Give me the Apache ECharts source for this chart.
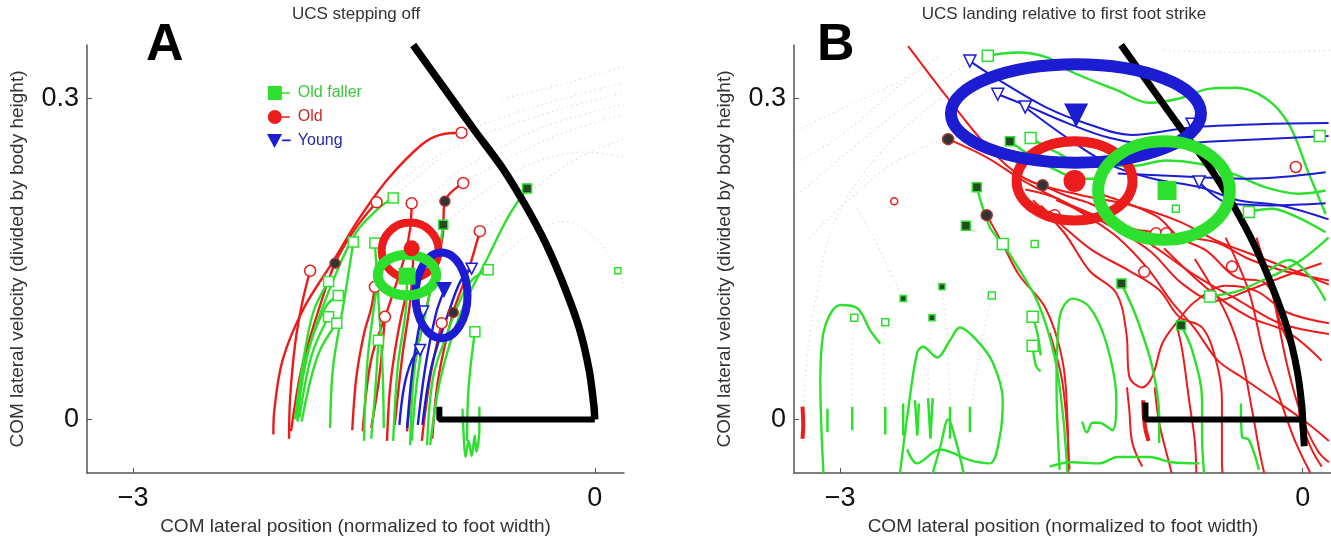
<!DOCTYPE html>
<html>
<head>
<meta charset="utf-8">
<title>UCS</title>
<script src="https://cdn.jsdelivr.net/npm/echarts@6.0.0/dist/echarts.min.js"></script>
<style>
  html, body { margin: 0; padding: 0; background: #fff; }
  #chart { width: 1331px; height: 537px; }
</style>
</head>
<body>
<div id="chart"></div>
<script>
// tick labels
var xTicks = [-3, 0];
var yTicks = [0, 0.3];

// black boundary (UCS)
var boundaryArcA = [[-1.18,0.350],[-0.98,0.310],[-0.78,0.270],[-0.60,0.235],[-0.45,0.200],[-0.32,0.165],[-0.20,0.125],[-0.10,0.085],[-0.035,0.045],[-0.005,0.012],[0,0.0]];
var boundaryBaseA = [[-1.01,0.012],[-1.01,0.0],[0,0.0]];
var boundaryArcB = [[-1.178,0.350],[-0.98,0.310],[-0.78,0.270],[-0.60,0.235],[-0.45,0.200],[-0.32,0.165],[-0.20,0.125],[-0.10,0.085],[-0.035,0.045],[-0.005,0.012],[0.004,-0.010],[0.010,-0.025]];
var boundaryBaseB = [[-1.02,0.016],[-1.02,0.0],[0,0.0]];

// panel A trajectories
var oldTrajA = [
  [[-2.089,-0.014],[-2.083,0.008],[-2.028,0.056],[-1.891,0.104],[-1.700,0.148],[-1.535,0.187],[-1.343,0.225],[-1.124,0.257],[-1.006,0.266],[-0.866,0.268]],
  [[-1.987,-0.018],[-1.980,0.020],[-1.946,0.072],[-1.900,0.110],[-1.850,0.139]],
  [[-1.974,-0.011],[-1.930,0.030],[-1.891,0.056],[-1.800,0.100],[-1.688,0.146],[-1.563,0.177],[-1.418,0.203]],
  [[-1.576,-0.010],[-1.549,0.040],[-1.500,0.080],[-1.453,0.104],[-1.429,0.124]],
  [[-1.508,-0.011],[-1.453,0.056],[-1.343,0.104],[-1.240,0.150],[-1.200,0.178],[-1.190,0.202]],
  [[-1.453,-0.008],[-1.400,0.040],[-1.364,0.096]],
  [[-1.220,-0.011],[-1.165,0.056],[-1.069,0.120],[-0.990,0.170],[-0.974,0.204],[-0.855,0.221]],
  [[-1.124,-0.020],[-1.069,0.040],[-0.995,0.090]],
  [[-1.056,-0.018],[-1.015,0.040],[-0.920,0.100],[-0.820,0.140],[-0.747,0.176]],
  [[-1.300,-0.005],[-1.250,0.060],[-1.200,0.110],[-1.180,0.150]],
  [[-1.350,-0.020],[-1.330,0.030],[-1.280,0.080],[-1.220,0.120]]
];
var fallerTrajA = [
  [[-1.946,0.002],[-1.900,0.050],[-1.830,0.100],[-1.730,0.129]],
  [[-1.932,-0.002],[-1.870,0.060],[-1.750,0.105],[-1.667,0.116]],
  [[-1.919,0.002],[-1.840,0.060],[-1.730,0.096]],
  [[-1.905,-0.002],[-1.800,0.060],[-1.677,0.090]],
  [[-1.946,0.000],[-1.850,0.070],[-1.700,0.130],[-1.550,0.175],[-1.400,0.198],[-1.310,0.207]],
  [[-1.720,-0.008],[-1.700,0.050],[-1.630,0.110],[-1.569,0.166]],
  [[-1.371,-0.008],[-1.380,0.050],[-1.405,0.110],[-1.429,0.165]],
  [[-1.453,-0.018],[-1.425,0.030],[-1.406,0.074]],
  [[-1.090,-0.024],[-1.050,0.040],[-0.960,0.080],[-0.880,0.110],[-0.800,0.130],[-0.693,0.140]],
  [[-1.070,-0.024],[-1.000,0.040],[-0.870,0.100],[-0.700,0.150],[-0.560,0.190],[-0.440,0.216]],
  [[-0.830,-0.020],[-0.820,0.030],[-0.779,0.082]],
  [[-1.310,-0.020],[-1.280,0.050],[-1.230,0.100],[-1.220,0.135]],
  [[-1.200,-0.024],[-1.170,0.050],[-1.100,0.100],[-1.020,0.150],[-0.985,0.182]],
  [[-1.500,-0.020],[-1.480,0.050],[-1.440,0.100],[-1.400,0.140]],
  [[-1.190,-0.020],[-1.160,0.030],[-1.120,0.070]],
  [[-0.86,0.010],[-0.85,-0.020],[-0.84,-0.035],[-0.82,-0.020],[-0.80,-0.034],[-0.78,-0.015],[-0.77,-0.030],[-0.75,-0.010],[-0.75,0.012]]
];
var youngTrajA = [
  [[-1.270,-0.005],[-1.240,0.030],[-1.190,0.055],[-1.136,0.065]],
  [[-1.220,-0.008],[-1.190,0.040],[-1.150,0.080],[-1.115,0.101]],
  [[-1.150,-0.005],[-1.100,0.050],[-1.030,0.100],[-0.980,0.120]],
  [[-1.120,-0.005],[-1.060,0.050],[-0.950,0.100],[-0.870,0.130],[-0.800,0.141]]
];
var dottedA = [
  [[-1.418,0.203],[-1.15,0.235],[-0.80,0.262],[-0.45,0.280],[-0.10,0.295],[0.19,0.305]],
  [[-0.866,0.268],[-0.55,0.285],[-0.20,0.300],[0.19,0.315]],
  [[-0.855,0.221],[-0.55,0.245],[-0.20,0.268],[0.19,0.285]],
  [[-0.747,0.176],[-0.45,0.210],[-0.10,0.245],[0.19,0.262]],
  [[-1.688,0.146],[-1.50,0.182],[-1.25,0.215],[-1.00,0.245]],
  [[-0.985,0.182],[-0.70,0.215],[-0.40,0.240],[-0.05,0.250],[0.19,0.245]],
  [[-0.693,0.140],[-0.45,0.170],[-0.20,0.185],[0.0,0.170],[0.15,0.139],[0.19,0.125]],
  [[-0.60,0.300],[-0.30,0.310],[0.0,0.322],[0.19,0.330]],
  [[-1.20,0.190],[-0.90,0.230],[-0.60,0.255],[-0.30,0.275],[0.19,0.295]]
];
var openCirclesA = [[-0.866,0.268],[-1.850,0.139],[-1.418,0.203],[-1.429,0.124],[-1.190,0.202],[-1.364,0.096],[-0.855,0.221],[-0.995,0.090],[-0.747,0.176]];
var openSquaresA = [[-1.730,0.129],[-1.667,0.116],[-1.730,0.096],[-1.677,0.090],[-1.310,0.207],[-1.569,0.166],[-1.429,0.165],[-1.406,0.074],[-0.693,0.140],[-0.779,0.082]];
var smallSquaresA = [[0.150,0.139]];
var openTrianglesA = [[-1.136,0.065],[-1.115,0.101],[-0.800,0.141]];
var darkDotsA = [[-1.688,0.146],[-0.974,0.204],[-0.920,0.100]];
var darkSquaresA = [[-0.985,0.182],[-0.440,0.216]];
// ellipses: [cx, cy, rx, ry] for old, young, faller
var ellipsesA = [[-1.20,0.158,0.185,0.026],[-0.996,0.116,0.169,0.040],[-1.22,0.135,0.19,0.019]];
var meanFallerA = [[-1.22,0.134]];
var meanOldA = [[-1.19,0.160]];
var meanYoungA = [[-0.98,0.121]];

// panel B trajectories
var oldTrajB = [
  [[-2.56,0.349],[-2.30,0.300],[-2.056,0.257],[-1.80,0.225],[-1.45,0.210],[-1.11,0.200],[-0.80,0.185],[-0.556,0.167],[-0.25,0.150],[0.0,0.136],[0.17,0.126]],
  [[-2.30,0.262],[-2.05,0.245],[-1.80,0.222],[-1.50,0.200],[-1.25,0.185],[-1.00,0.165],[-0.70,0.135],[-0.40,0.110],[-0.15,0.090],[0.17,0.080]],
  [[-1.80,0.215],[-1.60,0.207],[-1.40,0.190],[-1.20,0.170],[-1.00,0.140],[-0.85,0.110],[-0.70,0.085],[-0.55,0.055],[-0.40,0.040],[-0.25,0.025],[0.0,0.000],[0.17,-0.020]],
  [[-1.687,0.219],[-1.55,0.210],[-1.35,0.200],[-1.15,0.180],[-0.95,0.175],[-0.75,0.170],[-0.55,0.165],[-0.35,0.150],[-0.15,0.140],[0.17,0.130]],
  [[-1.75,0.205],[-1.55,0.175],[-1.383,0.139],[-1.209,0.118],[-1.144,0.081],[-1.125,0.040],[-1.041,0.030],[-0.976,0.040],[-0.911,0.071],[-0.821,0.090],[-0.70,0.110],[-0.50,0.125],[-0.30,0.120],[-0.10,0.100],[0.17,0.090]],
  [[-0.821,0.090],[-0.782,0.065],[-0.737,0.018],[-0.70,-0.020],[-0.69,-0.050]],
  [[-1.70,0.200],[-1.55,0.180],[-1.364,0.158],[-1.125,0.139],[-0.931,0.121],[-0.802,0.096],[-0.653,0.086],[-0.562,0.055],[-0.524,0.018],[-0.524,-0.041],[-0.52,-0.050]],
  [[-1.30,0.210],[-0.95,0.190],[-0.80,0.170],[-0.627,0.158],[-0.433,0.133],[-0.239,0.127],[-0.136,0.086],[-0.045,0.055],[-0.026,0.018],[-0.006,-0.003],[0.058,-0.028],[0.123,-0.044]],
  [[-1.60,0.205],[-1.30,0.185],[-0.995,0.158],[-0.782,0.127],[-0.562,0.111],[-0.349,0.121],[-0.136,0.133],[0.123,0.146]],
  [[-0.90,0.160],[-0.60,0.120],[-0.349,0.096],[-0.090,0.081],[0.123,0.055]],
  [[-2.05,0.191],[-1.95,0.165],[-1.84,0.135],[-1.668,0.104],[-1.558,0.055],[-1.526,0.000],[-1.52,-0.050]],
  [[-1.642,0.081],[-1.558,0.034],[-1.513,-0.047]],
  [[-1.14,0.030],[-1.125,0.009],[-1.105,-0.022],[-1.041,-0.044]],
  [[-0.96,0.030],[-0.931,-0.003],[-0.866,-0.041],[-0.85,-0.050]],
  [[-0.30,0.170],[-0.20,0.120],[-0.10,0.050],[0.0,0.000],[0.10,-0.030],[0.17,-0.040]],
  [[-0.50,0.170],[-0.35,0.120],[-0.25,0.060],[-0.15,0.020],[-0.05,-0.020],[0.05,-0.050]],
  [[-0.70,0.150],[-0.50,0.100],[-0.40,0.060],[-0.33,0.010],[-0.28,-0.030],[-0.25,-0.050]]
];
var oldBlobsB = [
  [[-3.245,0.012],[-3.240,-0.005],[-3.245,-0.018]],
  [[-1.035,0.018],[-1.025,-0.005],[-1.000,-0.020],[-1.020,-0.010]],
  [[-0.020,0.020],[-0.010,-0.005],[0.005,-0.020]]
];
var youngTrajB = [
  [[-2.159,0.335],[-1.946,0.315],[-1.668,0.292],[-1.390,0.276],[-1.112,0.266],[-0.724,0.273],[-0.278,0.276],[0.168,0.277]],
  [[-1.978,0.304],[-1.803,0.294],[-1.526,0.277],[-1.248,0.263],[-0.970,0.257],[-0.556,0.260],[0.168,0.265]],
  [[-1.803,0.292],[-1.526,0.263],[-1.248,0.238],[-0.970,0.225],[-0.666,0.217],[-0.420,0.205],[-0.142,0.200],[0.168,0.187]],
  [[-0.672,0.222],[-0.478,0.202],[-0.200,0.200],[0.149,0.202]],
  [[-1.200,0.230],[-0.600,0.226],[-0.350,0.225],[0.149,0.231]]
];
var fallerTrajB = [
  [[-2.043,0.340],[-1.85,0.343],[-1.65,0.338],[-1.50,0.325],[-1.209,0.308],[-0.995,0.296],[-0.80,0.300],[-0.608,0.309],[-0.433,0.310],[-0.239,0.300],[-0.090,0.276],[0.039,0.230],[0.149,0.192]],
  [[-1.765,0.263],[-1.60,0.250],[-1.45,0.240],[-1.105,0.237],[-0.886,0.242],[-0.672,0.239],[-0.459,0.230],[-0.239,0.217],[-0.026,0.211],[0.149,0.214]],
  [[-1.90,0.260],[-1.75,0.245],[-1.60,0.233],[-1.45,0.225],[-1.30,0.225]],
  [[-0.349,0.194],[-0.20,0.197],[-0.05,0.190],[0.149,0.175]],
  [[-0.601,0.115],[-0.42,0.120],[-0.278,0.129],[-0.142,0.138],[0.0,0.150],[0.168,0.170]],
  [[-3.109,-0.050],[-3.129,0.034],[-3.109,0.081],[-2.999,0.107],[-2.889,0.104],[-2.805,0.083],[-2.741,0.071]],
  [[-2.612,-0.050],[-2.566,0.002],[-2.502,0.062],[-2.463,0.068],[-2.372,0.058],[-2.288,0.074],[-2.224,0.086],[-2.114,0.074],[-2.010,0.053],[-1.946,0.018],[-1.965,-0.016],[-2.030,-0.041],[-2.159,-0.038],[-2.353,-0.028],[-2.502,-0.041],[-2.566,-0.028]],
  [[-1.577,-0.047],[-1.597,0.034],[-1.577,0.096],[-1.493,0.113],[-1.383,0.105],[-1.273,0.071],[-1.209,0.018],[-1.235,-0.010],[-1.319,-0.003],[-1.364,-0.003],[-1.40,-0.012],[-1.43,-0.002]],
  [[-2.114,0.217],[-2.03,0.180],[-1.946,0.164],[-1.89,0.152],[-1.72,0.110],[-1.61,0.059],[-1.558,0.008],[-1.526,-0.050]],
  [[-1.176,0.127],[-1.080,0.096],[-0.976,0.049],[-0.931,0.002],[-0.931,-0.022]],
  [[-0.789,0.088],[-0.718,0.065],[-0.653,0.018],[-0.653,-0.016],[-0.640,-0.050]],
  [[-1.642,-0.044],[-1.50,-0.040],[-1.319,-0.041],[-1.20,-0.035],[-0.995,-0.035],[-0.85,-0.040],[-0.672,-0.041]],
  [[-0.401,0.015],[-0.394,-0.016],[-0.349,-0.019],[-0.284,-0.047]],
  [[-0.22,0.139],[-0.09,0.149],[0.039,0.135],[0.149,0.111]],
  [[-1.752,0.096],[-1.72,0.080],[-1.70,0.060]],
  [[-1.752,0.069],[-1.73,0.050],[-1.70,0.045]],
  [[-2.20,-0.050],[-2.25,-0.020],[-2.30,0.000],[-2.35,-0.025],[-2.40,-0.050]]
];
var fallerSquigglesB = [
  [[-3.083,0.010],[-3.083,-0.012]],
  [[-2.922,0.012],[-2.922,-0.010]],
  [[-2.708,0.012],[-2.708,-0.014]],
  [[-2.592,0.015],[-2.592,-0.015]],
  [[-2.515,0.018],[-2.500,-0.015],[-2.490,0.015]],
  [[-2.430,0.020],[-2.415,-0.018],[-2.400,0.020]],
  [[-2.288,0.012],[-2.288,-0.018]],
  [[-2.159,0.012],[-2.159,-0.012]]
];
var dottedB = [
  [[-3.24,-0.02],[-3.22,0.05],[-3.15,0.12],[-3.05,0.18],[-2.85,0.23],[-2.60,0.27],[-2.35,0.30]],
  [[-2.922,0.0],[-2.925,0.05],[-2.909,0.095]],
  [[-2.708,0.0],[-2.72,0.05],[-2.708,0.091]],
  [[-2.418,0.0],[-2.43,0.05],[-2.405,0.095]],
  [[-2.288,0.0],[-2.30,0.06],[-2.34,0.124]],
  [[-2.159,0.0],[-2.10,0.06],[-2.017,0.116]],
  [[-3.28,0.21],[-2.95,0.25],[-2.65,0.285],[-2.40,0.31],[-2.15,0.335]],
  [[-3.28,0.27],[-3.00,0.29],[-2.70,0.31],[-2.45,0.33]],
  [[-3.28,0.24],[-3.00,0.265],[-2.75,0.295],[-2.55,0.32],[-2.35,0.34]],
  [[-3.20,0.17],[-2.95,0.205],[-2.70,0.235],[-2.45,0.255],[-2.30,0.262]],
  [[-2.592,0.113],[-2.75,0.16],[-2.90,0.20]],
  [[-0.90,0.345],[-0.40,0.343],[0.19,0.345]]
];
var openCirclesB = [[-1.028,0.138],[-0.459,0.143],[-0.045,0.236],[-0.952,0.174],[-0.886,0.174],[-1.610,0.191]];
var smallCirclesB = [[-2.650,0.204]];
var openSquaresB = [[-2.043,0.340],[-1.765,0.263],[-0.349,0.194],[-0.601,0.115],[0.110,0.265],[-1.946,0.164],[-1.752,0.096],[-1.752,0.069]];
var smallSquaresB = [[-2.909,0.095],[-2.708,0.091],[-2.017,0.116],[-1.739,0.164],[-0.823,0.197]];
var openTrianglesB = [[-2.159,0.335],[-1.978,0.304],[-1.800,0.292],[-0.718,0.276],[-0.672,0.222]];
var darkDotsB = [[-2.300,0.262],[-2.050,0.191],[-1.687,0.219]];
var darkSquaresB = [[-1.900,0.260],[-2.114,0.217],[-2.185,0.181],[-1.176,0.127],[-0.789,0.088]];
var smallDarkSquaresB = [[-2.592,0.113],[-2.340,0.124],[-2.405,0.095]];
var ellipsesB = [[-1.48,0.223,0.376,0.037],[-1.471,0.286,0.811,0.046],[-0.90,0.214,0.427,0.046]];
var meanFallerB = [[-0.88,0.214]];
var meanOldB = [[-1.48,0.223]];
var meanYoungB = [[-1.47,0.284]];

var RED = '#ec1c1c', GREEN = '#2ee02e', BLUE = '#1c1cd2', DARK = '#333';
var FONT = 'Liberation Sans, Arial, sans-serif';
var ellipseColors = [RED, BLUE, GREEN];

function lines(paths, color, width, ax, extra) {
  return paths.map(function (p) {
    var s = {
      type: 'line', xAxisIndex: ax, yAxisIndex: ax, data: p,
      smooth: 0.35, symbol: 'none', silent: true, z: 2,
      lineStyle: { color: color, width: width }
    };
    return Object.assign(s, extra || {});
  });
}
function marks(points, symbol, size, fill, stroke, ax, rotate, name) {
  return {
    type: 'scatter', name: name, xAxisIndex: ax, yAxisIndex: ax, data: points,
    symbol: symbol, symbolSize: size, symbolRotate: rotate || 0, silent: true, z: 4,
    itemStyle: { color: fill, borderColor: stroke, borderWidth: stroke ? 1.5 : 0, opacity: 1 }
  };
}
function ellipses(data, widths, ax) {
  return {
    type: 'custom', xAxisIndex: ax, yAxisIndex: ax, coordinateSystem: 'cartesian2d',
    data: data, encode: { x: 0, y: 1 }, silent: true, z: 6,
    renderItem: function (params, api) {
      var c = api.coord([api.value(0), api.value(1)]);
      var s = api.size([api.value(2), api.value(3)]);
      return {
        type: 'ellipse',
        shape: { cx: c[0], cy: c[1], rx: s[0], ry: s[1] },
        style: { fill: 'none', stroke: ellipseColors[params.dataIndex], lineWidth: widths[params.dataIndex] }
      };
    }
  };
}
function xAxis(ax) {
  return {
    type: 'value', gridIndex: ax, min: -3.3, max: 0.19,
    splitLine: { show: false },
    axisLine: { onZero: false, lineStyle: { color: '#555', width: 1.5 } },
    axisTick: { inside: true, length: 5, customValues: xTicks, lineStyle: { color: '#555' } },
    axisLabel: {
      customValues: xTicks, fontSize: 27, color: '#111', fontFamily: FONT, margin: 12,
      formatter: function (v) { return v < 0 ? '\u2212' + Math.abs(v) : String(v); }
    },
    name: 'COM lateral position (normalized to foot width)', nameLocation: 'middle', nameGap: 42,
    nameTextStyle: { fontSize: 19, color: '#333', fontFamily: FONT }
  };
}
function yAxis(ax) {
  return {
    type: 'value', gridIndex: ax, min: -0.05, max: 0.35,
    splitLine: { show: false },
    axisLine: { onZero: false, lineStyle: { color: '#555', width: 1.5 } },
    axisTick: { inside: true, length: 5, customValues: yTicks, lineStyle: { color: '#555' } },
    axisLabel: { customValues: yTicks, fontSize: 27, color: '#111', fontFamily: FONT, margin: 8 },
    name: 'COM lateral velocity (divided by body height)', nameLocation: 'middle', nameGap: 60,
    nameTextStyle: { fontSize: 19, color: '#333', fontFamily: FONT }
  };
}
function legendIcon(head) {
  return 'path://' + head + ' M14,6.2H22V7.8H14Z';
}

var dotStyle = { lineStyle: { color: '#8c8c8c', width: 1.2, type: [1, 4], opacity: 0.4 }, z: 1 };
var series = [];
series = series.concat(
  lines(dottedA, '#8c8c8c', 1.2, 0, dotStyle),
  lines(dottedB, '#8c8c8c', 1.2, 1, dotStyle),
  lines([boundaryArcA], '#000', 7.5, 0, { smooth: 0.25, z: 3 }),
  lines([boundaryBaseA], '#000', 6, 0, { smooth: false, z: 3 }),
  lines([boundaryArcB], '#000', 7, 1, { smooth: 0.25, z: 3 }),
  lines([boundaryBaseB], '#000', 6, 1, { smooth: false, z: 3 }),
  lines(oldTrajA, RED, 2.4, 0),
  lines(fallerTrajA, GREEN, 2.4, 0),
  lines(youngTrajA, BLUE, 2.4, 0),
  lines(oldTrajB, RED, 2, 1),
  lines(oldBlobsB, RED, 4, 1),
  lines(fallerTrajB, GREEN, 2.4, 1),
  lines(fallerSquigglesB, GREEN, 2.5, 1, { smooth: false }),
  lines(youngTrajB, BLUE, 2, 1)
);
series.push(
  marks(openCirclesA, 'circle', 11, '#fff', RED, 0),
  marks(openSquaresA, 'rect', 10, '#fff', GREEN, 0),
  marks(smallSquaresA, 'rect', 6, '#fff', GREEN, 0),
  marks(openTrianglesA, 'triangle', 11, '#fff', BLUE, 0, 180),
  marks(darkDotsA, 'circle', 10, DARK, '#a33', 0),
  marks(darkSquaresA, 'rect', 9, '#234a23', GREEN, 0),
  marks(openCirclesB, 'circle', 11, '#fff', RED, 1),
  marks(smallCirclesB, 'circle', 7, '#fff', RED, 1),
  marks(openSquaresB, 'rect', 11, '#fff', GREEN, 1),
  marks(smallSquaresB, 'rect', 7, '#fff', GREEN, 1),
  marks(openTrianglesB, 'triangle', 12, '#fff', BLUE, 1, 180),
  marks(darkDotsB, 'circle', 11, DARK, '#a33', 1),
  marks(darkSquaresB, 'rect', 9, '#234a23', GREEN, 1),
  marks(smallDarkSquaresB, 'rect', 6, '#234a23', GREEN, 1),
  ellipses(ellipsesA, [8, 8, 10], 0),
  ellipses(ellipsesB, [10, 12, 12], 1)
);
var meanSets = [
  ['Old faller', 'rect', GREEN, meanFallerA, 17, meanFallerB, 19, 0],
  ['Old', 'circle', RED, meanOldA, 16, meanOldB, 22, 0],
  ['Young', 'triangle', BLUE, meanYoungA, 16, meanYoungB, 24, 180]
];
meanSets.forEach(function (m) {
  var a = marks(m[3], m[1], m[4], m[2], null, 0, m[7], m[0]);
  var b = marks(m[5], m[1], m[6], m[2], null, 1, m[7], m[0]);
  a.z = b.z = 8;
  series.push(a, b);
});

var chart = echarts.init(document.getElementById('chart'), null, { renderer: 'canvas' });
chart.setOption({
  animation: false,
  backgroundColor: '#fff',
  grid: [
    { left: 87, top: 45, width: 537, height: 428, outerBoundsMode: 'none' },
    { left: 794, top: 45, width: 538, height: 428, outerBoundsMode: 'none' }
  ],
  xAxis: [xAxis(0), xAxis(1)],
  yAxis: [yAxis(0), yAxis(1)],
  legend: {
    left: 262, top: 80, orient: 'vertical', itemWidth: 28, itemHeight: 14, itemGap: 8,
    selectedMode: false,
    textStyle: { fontSize: 16, fontFamily: FONT },
    data: [
      { name: 'Old faller', icon: legendIcon('M0,0H14V14H0Z'), textStyle: { color: '#3cc83c' } },
      { name: 'Old', icon: legendIcon('M7,0A7,7,0,1,1,7,14A7,7,0,1,1,7,0Z'), textStyle: { color: '#cc2626' } },
      { name: 'Young', icon: legendIcon('M0,1H14L7,14Z'), textStyle: { color: '#2626a8' } }
    ]
  },
  graphic: [
    { type: 'text', x: 356, y: 14, style: { text: 'UCS stepping off', font: '17px ' + FONT, fill: '#333', textAlign: 'center', textVerticalAlign: 'middle', align: 'center', verticalAlign: 'middle' } },
    { type: 'text', x: 1064, y: 14, style: { text: 'UCS landing relative to first foot strike', font: '17px ' + FONT, fill: '#333', textAlign: 'center', textVerticalAlign: 'middle', align: 'center', verticalAlign: 'middle' } },
    { type: 'text', x: 146, y: 46, z: 20, style: { text: 'A', font: 'bold 52px ' + FONT, fill: '#000', textVerticalAlign: 'middle', verticalAlign: 'middle' } },
    { type: 'text', x: 817, y: 46, z: 20, style: { text: 'B', font: 'bold 52px ' + FONT, fill: '#000', textVerticalAlign: 'middle', verticalAlign: 'middle' } }
  ],
  series: series
});
</script>
</body>
</html>
